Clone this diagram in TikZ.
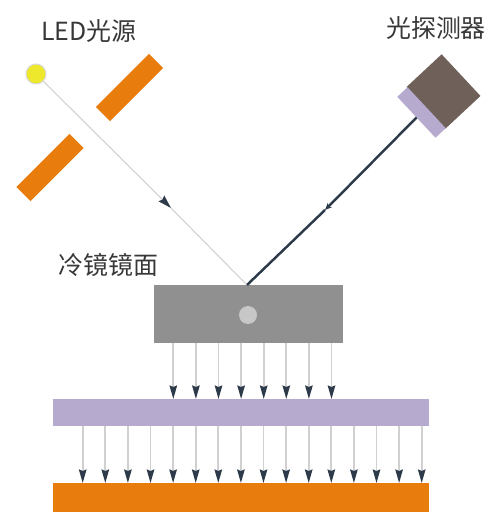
\documentclass[tikz,border=0pt]{standalone}
\usepackage{fontspec}
\setmainfont{Noto Sans CJK SC}
\usetikzlibrary{arrows.meta,positioning}
\definecolor{plate}{RGB}{232,124,12}
\definecolor{lavender}{RGB}{182,170,207}
\definecolor{mirrorgray}{RGB}{144,144,144}
\definecolor{housing}{RGB}{112,96,90}
\definecolor{ink}{RGB}{44,58,74}
\definecolor{beamgray}{RGB}{208,208,208}
\definecolor{ledyellow}{RGB}{238,232,44}
\tikzset{
  solid box/.style={inner sep=0pt,outer sep=0pt,rectangle},
  label text/.style={font=\fontsize{14.2pt}{16pt}\selectfont,text=black!78,inner sep=0pt},
  down beam/.style={draw=beamgray,line width=1pt,-{Stealth[color=ink,length=0.27cm,width=0.15cm,inset=0.03cm]}},
}
\begin{document}
\begin{tikzpicture}[x=0.02cm,y=0.02cm]
    \useasboundingbox (0,0) rectangle (494,516);
    \node[label text] (ledlabel) at (89,485){LED光源};
    \node[label text] (detlabel) at (436,488){光探测器};
    \node[label text] (mirrorlabel) at (108.5,251){冷镜镜面};
    \node[circle,fill=ledyellow,draw=black!15,line width=0.6pt,minimum size=0.4cm,inner sep=0pt] (led) at (36,442){};
    \node[solid box,fill=plate,minimum width=1.5cm,minimum height=0.4cm,rotate=45] (upperplate) at (129.5,428.5){};
    \node[solid box,fill=plate,minimum width=1.5cm,minimum height=0.4cm,rotate=45] (lowerplate) at (50,348.5){};
    \node[solid box,fill=housing,minimum width=1.14cm,minimum height=0.96cm,rotate=-47] (housing) at (443.5,424.5){};
    \node[solid box,fill=lavender,minimum width=1.12cm,minimum height=0.28cm,rotate=-47] (sensor) at (421.5,403.5){};
    \node[solid box,fill=mirrorgray,minimum width=3.78cm,minimum height=1.16cm] (mirror) at (248.5,202){};
    \node[circle,fill=black!22,minimum size=0.36cm,inner sep=0pt] (heater) at (248,201){};
    \node[solid box,fill=lavender,minimum width=7.52cm,minimum height=0.54cm] (film) at (241,103.5){};
    \node[solid box,fill=plate,minimum width=7.52cm,minimum height=0.58cm] (base) at (241,18.5){};
    \coordinate (hit) at (247,231);
    \coordinate (incident) at (171,308);
    \coordinate (reflected) at (325,306);
    \draw[beamgray,line width=0.6pt,-{Stealth[color=ink,length=0.27cm,width=0.16cm,inset=0.03cm]}] (led)--(incident);
    \draw[beamgray,line width=0.6pt] (incident)--(hit);
    \draw[ink,line width=1.4pt,-{Stealth[length=0.14cm,width=0.12cm]}] (sensor)--(reflected);
    \draw[ink,line width=1.4pt] (reflected)--(hit);
    \foreach \x in {173.3,195.9,...,332}{\draw[down beam] (\x,0 |- mirror.south)--(\x,0 |- film.north);}
    \foreach \x in {82.7,105.3,...,422}{\draw[down beam] (\x,0 |- film.south)--(\x,0 |- base.north);}
  \end{tikzpicture}
\end{document}
